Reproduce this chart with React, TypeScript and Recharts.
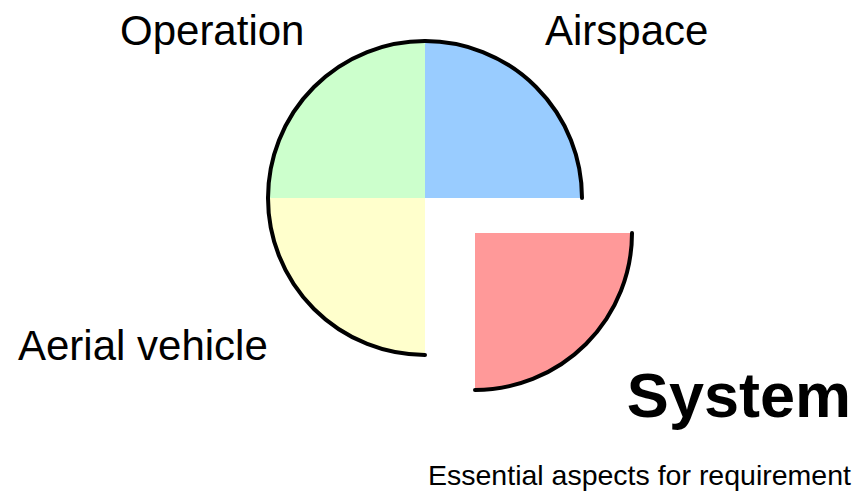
import { Pie, PieChart, Sector } from "recharts"

const aspects = ["Airspace", "System", "Aerial vehicle", "Operation"]
const shares = [25, 25, 25, 25]
const colors = ["#99ccff", "#ff9999", "#ffffcc", "#ccffcc"]

const data = aspects.map((name, i) => ({ name, value: shares[i], fill: colors[i] }))

// the "System" piece is pulled out of the pie
const explode: Record<string, [number, number]> = { System: [50, 35] }

// where each name sits round the pie
const labelSpots: Record<string, { x: number; y: number; anchor: string }> = {
  Airspace: { x: 545, y: 45, anchor: "start" },
  "Aerial vehicle": { x: 18, y: 360, anchor: "start" },
  Operation: { x: 120, y: 45, anchor: "start" },
}

const RAD = Math.PI / 180

function polar(cx: number, cy: number, r: number, angle: number) {
  return [cx + Math.cos(-angle * RAD) * r, cy + Math.sin(-angle * RAD) * r]
}

function Slice(props: any) {
  const { cx, cy, outerRadius, startAngle, endAngle, fill, payload } = props
  const [dx, dy] = explode[payload?.name] ?? [0, 0]
  const x = cx + dx
  const y = cy + dy
  const [sx, sy] = polar(x, y, outerRadius, startAngle)
  const [ex, ey] = polar(x, y, outerRadius, endAngle)
  return (
    <g>
      <Sector {...props} cx={x} cy={y} stroke="none" fill={fill} />
      <path
        d={`M${sx},${sy} A${outerRadius},${outerRadius} 0 0 1 ${ex},${ey}`}
        fill="none"
        stroke="#000"
        strokeWidth={4}
        strokeLinecap="round"
      />
    </g>
  )
}

function renderLabel(props: any) {
  const spot = labelSpots[props.name]
  if (!spot) return null
  return (
    <text x={spot.x} y={spot.y} textAnchor={spot.anchor} fontSize={42} fill="#000" fontFamily="Liberation Sans, Arial, sans-serif">
      {props.name}
    </text>
  )
}

export default function App() {
  return (
    <div style={{ position: "absolute", left: 0, top: 0, width: 856, height: 493, background: "#fff" }}>
      <PieChart width={856} height={493} margin={{ top: 0, right: 0, bottom: 0, left: 0 }}>
        <Pie
          data={data}
          dataKey="value"
          nameKey="name"
          cx={425}
          cy={198}
          outerRadius={157}
          startAngle={90}
          endAngle={-270}
          stroke="none"
          shape={Slice}
          label={renderLabel}
          labelLine={false}
          isAnimationActive={false}
        />
      </PieChart>
      <div
        style={{
          position: "absolute",
          right: 5,
          top: 360,
          fontFamily: "Liberation Sans, Arial, sans-serif",
          fontWeight: "bold",
          fontSize: 63,
          lineHeight: "70px",
        }}
      >
        System
      </div>
      <div
        style={{
          position: "absolute",
          left: 428,
          top: 458,
          fontFamily: "Liberation Sans, Arial, sans-serif",
          fontSize: 28.5,
          lineHeight: "34px",
        }}
      >
        Essential aspects for requirement
      </div>
    </div>
  )
}
